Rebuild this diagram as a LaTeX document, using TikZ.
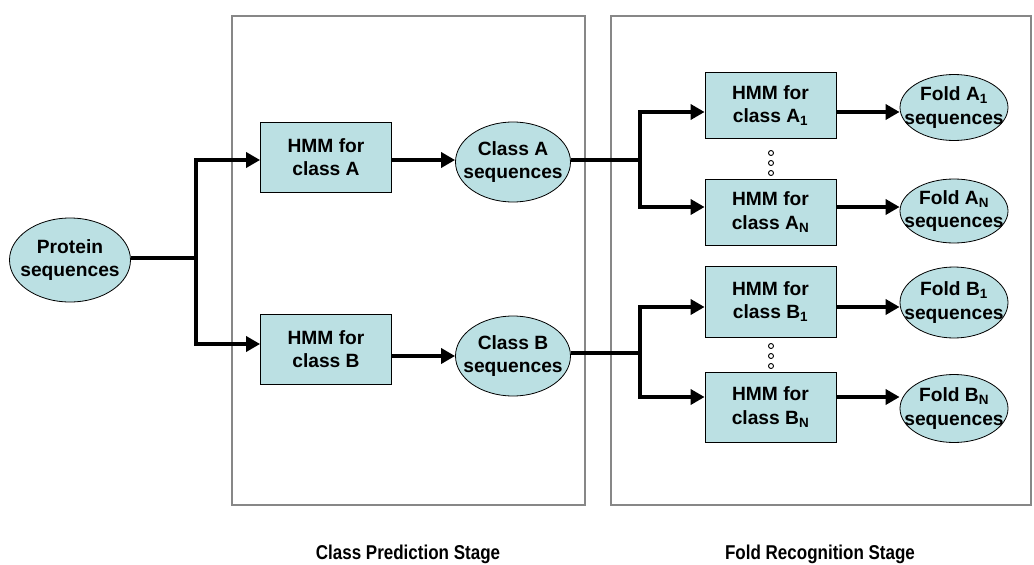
\documentclass[tikz,border=0pt]{standalone}
\usepackage{fontspec}
\usepackage{graphicx}
\setmainfont{Liberation Sans}
\usetikzlibrary{shapes.geometric,arrows.meta}
\definecolor{fillc}{RGB}{187,224,227}
\definecolor{framec}{RGB}{135,135,135}
\begin{document}
\begin{tikzpicture}[x=1pt,y=-1pt,
 txt/.style={font=\fontsize{19.2}{23.5}\selectfont\bfseries, align=center},
 hmm/.style={txt, draw=black, line width=0.8pt, fill=fillc, minimum width=131pt, minimum height=68pt, inner sep=0pt},
 ell/.style={txt, ellipse, draw=black, line width=0.8pt, fill=fillc, inner sep=-16pt},
 flow/.style={line width=4.5pt, -{Triangle[length=14pt,width=15pt]}},
 link/.style={line width=4.5pt},
 vlink/.style={line width=4.5pt, line cap=rect},
 frame/.style={draw=framec, line width=1.6pt},
 stage/.style={font=\fontsize{20}{22}\selectfont\bfseries},
 dot/.style={circle, draw=black, line width=0.9pt, fill=white, minimum size=5pt, inner sep=0pt}]
\useasboundingbox (0,0) rectangle (1034,565);
\draw[frame] (232,16) rectangle (585,505);
\draw[frame] (611,16) rectangle (1031,505);
\node[stage] (lab1) at (408,554) {\scalebox{0.85}[1]{Class Prediction Stage}};
\node[stage] (lab2) at (820,554) {\scalebox{0.85}[1]{Fold Recognition Stage}};
% class stage
\node[ell, minimum width=121pt, minimum height=84pt] (prot) at (70,260) {Protein\\sequences};
\node[hmm, minimum height=70pt] (hA) at (326,157) {HMM for\\class A};
\node[hmm, minimum height=70pt] (hB) at (326,349) {HMM for\\class B};
\node[ell, minimum width=115pt, minimum height=80pt] (cA) at (513,162) {Class A\\sequences};
\node[ell, minimum width=115pt, minimum height=80pt] (cB) at (513,356) {Class B\\sequences};
\coordinate (j0) at (196,258);
\coordinate (j0a) at (196,160);
\coordinate (j0b) at (196,344);
\draw[link] (prot.east |- j0) -- (j0);
\draw[vlink] (j0a) -- (j0b);
\draw[flow] (j0a) -- (hA.west |- j0a);
\draw[flow] (j0b) -- (hB.west |- j0b);
\draw[flow] (hA.east |- j0a) -- (cA.west |- j0a);
\draw[flow] (hB.east |- cB) -- (cB.west);
% fold stage
\node[hmm, minimum height=66pt] (hA1) at (770.5,105.5) {HMM for\\class A\textsubscript{1}};
\node[hmm, minimum height=66pt] (hAN) at (770.5,212) {HMM for\\class A\textsubscript{N}};
\node[hmm, minimum height=71pt] (hB1) at (770.5,301.5) {HMM for\\class B\textsubscript{1}};
\node[hmm, minimum height=70pt] (hBN) at (770.5,407) {HMM for\\class B\textsubscript{N}};
\node[ell, minimum width=108pt, minimum height=66pt] (fA1) at (954,107.5) {Fold A\textsubscript{1}\\sequences};
\node[ell, minimum width=108pt, minimum height=64pt] (fAN) at (954,211) {Fold A\textsubscript{N}\\sequences};
\node[ell, minimum width=108pt, minimum height=71pt] (fB1) at (954,302.5) {Fold B\textsubscript{1}\\sequences};
\node[ell, minimum width=108pt, minimum height=68pt] (fBN) at (954,408.5) {Fold B\textsubscript{N}\\sequences};
\coordinate (jA) at (640,160);
\coordinate (jA1) at (640,112);
\coordinate (jAN) at (640,207);
\coordinate (jB) at (640,353);
\coordinate (jB1) at (640,307);
\coordinate (jBN) at (640,397);
\draw[link] (cA.east |- jA) -- (jA);
\draw[vlink] (jA1) -- (jAN);
\draw[flow] (jA1) -- (hA1.west |- jA1);
\draw[flow] (jAN) -- (hAN.west |- jAN);
\draw[link] (cB.east |- jB) -- (jB);
\draw[vlink] (jB1) -- (jBN);
\draw[flow] (jB1) -- (hB1.west |- jB1);
\draw[flow] (jBN) -- (hBN.west |- jBN);
\draw[flow] (hA1.east |- jA1) -- (fA1.west |- jA1);
\draw[flow] (hAN.east |- jAN) -- (fAN.west |- jAN);
\draw[flow] (hB1.east |- jB1) -- (fB1.west |- jB1);
\draw[flow] (hBN.east |- jBN) -- (fBN.west |- jBN);
% dots
\node[dot] (dA1) at (771,153) {};
\node[dot] (dA2) at (771,163) {};
\node[dot] (dA3) at (771,173) {};
\node[dot] (dB1) at (771,346) {};
\node[dot] (dB2) at (771,356) {};
\node[dot] (dB3) at (771,366) {};
\end{tikzpicture}
\end{document}
